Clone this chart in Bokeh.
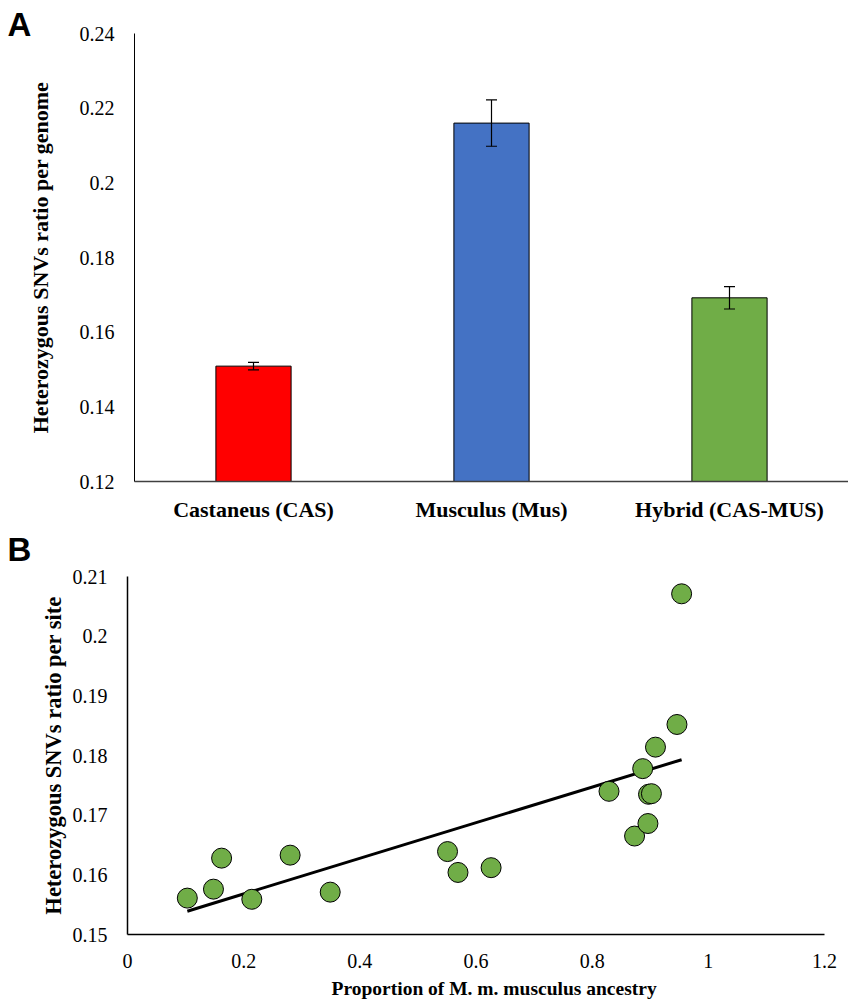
from bokeh.plotting import figure
from bokeh.models import Whisker, ColumnDataSource, FixedTicker, TeeHead, Title, Label
from bokeh.embed import file_html
from bokeh.resources import INLINE
import numpy as np

# ---- Panel A data ----
categories = ["Castaneus (CAS)", "Musculus (Mus)", "Hybrid (CAS-MUS)"]
genome_ratio = [0.1509, 0.2160, 0.1692]
genome_err = [0.0010, 0.0062, 0.0030]
bar_colors = ["#FF0000", "#4472C4", "#70AD47"]
yA_ticks = [0.12, 0.14, 0.16, 0.18, 0.20, 0.22, 0.24]
yA_labels = ["0.12", "0.14", "0.16", "0.18", "0.2", "0.22", "0.24"]

# ---- Panel B data ----
musculus_prop = [0.103, 0.148, 0.162, 0.214, 0.280, 0.349, 0.551, 0.569, 0.626,
                 0.829, 0.873, 0.887, 0.896, 0.897, 0.902, 0.909, 0.946, 0.954]
site_ratio = [0.1561, 0.1576, 0.1628, 0.1559, 0.1633, 0.1571, 0.1639, 0.1604, 0.1612,
              0.1740, 0.1665, 0.1778, 0.1686, 0.1735, 0.1736, 0.1814, 0.1852, 0.2071]
xB_ticks = [0, 0.2, 0.4, 0.6, 0.8, 1.0, 1.2]
xB_labels = ["0", "0.2", "0.4", "0.6", "0.8", "1", "1.2"]
yB_ticks = [0.15, 0.16, 0.17, 0.18, 0.19, 0.20, 0.21]
yB_labels = ["0.15", "0.16", "0.17", "0.18", "0.19", "0.2", "0.21"]

SERIF = "Liberation Serif"
SANS = "Liberation Sans"


def style_axes(p):
    for ax in (p.xaxis[0], p.yaxis[0]):
        ax.major_tick_line_color = None
        ax.minor_tick_line_color = None
        ax.major_tick_out = 0
        ax.major_tick_in = 0
        ax.minor_tick_out = 0
        ax.minor_tick_in = 0
        ax.major_label_text_font = SERIF
        ax.major_label_text_font_size = "20px"
        ax.major_label_text_color = "black"
        ax.axis_label_text_font = SERIF
        ax.axis_label_text_font_style = "bold"
        ax.axis_label_text_font_size = "22px"
        ax.axis_label_text_color = "black"
        ax.axis_line_color = "black"
    p.xgrid.grid_line_color = None
    p.ygrid.grid_line_color = None
    p.outline_line_color = None


# ---------- Panel A ----------
pA = figure(x_range=categories, y_range=(0.12, 0.24), width=848, height=530,
            output_backend="svg", toolbar_location=None, margin=(-4, 0, 0, 0),
            min_border_left=134, min_border_right=0, min_border_top=34, min_border_bottom=45)
srcA = ColumnDataSource(dict(cat=categories, val=genome_ratio, color=bar_colors,
                             upper=[v + e for v, e in zip(genome_ratio, genome_err)],
                             lower=[v - e for v, e in zip(genome_ratio, genome_err)]))
pA.vbar(x="cat", top="val", bottom=0.12, width=0.316, fill_color="color",
        line_color="black", line_width=1, source=srcA)
pA.add_layout(Whisker(base="cat", upper="upper", lower="lower", source=srcA,
                      line_color="black", line_width=1.2, level="overlay",
                      upper_head=TeeHead(size=11, line_color="black", line_width=1.2),
                      lower_head=TeeHead(size=11, line_color="black", line_width=1.2)))
style_axes(pA)
pA.x_range.range_padding = 0
pA.yaxis[0].ticker = FixedTicker(ticks=yA_ticks)
pA.yaxis[0].major_label_overrides = {t: l for t, l in zip(yA_ticks, yA_labels)}
pA.yaxis[0].axis_label = "Heterozygous SNVs ratio per genome"
pA.yaxis[0].major_label_standoff = 20
pA.yaxis[0].axis_label_standoff = 24
pA.xaxis[0].major_label_text_font_style = "bold"
pA.xaxis[0].major_label_text_font_size = "22px"
pA.xaxis[0].major_label_standoff = 15
pA.xaxis[0].axis_line_color = "#404040"
pA.xaxis[0].axis_line_width = 1.5
pA.add_layout(Label(x=-127, y=9, x_units="screen", y_units="screen", text="A",
                    text_font=SANS, text_font_style="bold", text_font_size="33px",
                    text_baseline="alphabetic", text_color="black"), "above")

# ---------- Panel B ----------
pB = figure(x_range=(0, 1.2), y_range=(0.15, 0.21), width=848, height=477,
            output_backend="svg", toolbar_location=None,
            min_border_left=127, min_border_right=24, min_border_top=50, min_border_bottom=66)
srcB = ColumnDataSource(dict(x=musculus_prop, y=site_ratio))
coef = np.polyfit(np.array(musculus_prop), np.array(site_ratio), 1)
fit_x = np.array([min(musculus_prop), max(musculus_prop)])
pB.line(fit_x, np.polyval(coef, fit_x), line_color="black", line_width=3)
pB.scatter("x", "y", size=20, fill_color="#70AD47", line_color="black", line_width=1,
           source=srcB)
style_axes(pB)
pB.xaxis[0].ticker = FixedTicker(ticks=xB_ticks)
pB.xaxis[0].major_label_overrides = {t: l for t, l in zip(xB_ticks, xB_labels)}
pB.yaxis[0].ticker = FixedTicker(ticks=yB_ticks)
pB.yaxis[0].major_label_overrides = {t: l for t, l in zip(yB_ticks, yB_labels)}
pB.yaxis[0].axis_label = "Heterozygous SNVs ratio per site"
pB.yaxis[0].axis_label_text_font_size = "22.5px"
pB.xaxis[0].major_label_standoff = 19
pB.yaxis[0].major_label_standoff = 20
pB.yaxis[0].axis_label_standoff = 4
pB.xaxis[0].axis_line_width = 1.5
pB.yaxis[0].axis_line_width = 1.5
pB.add_layout(Label(x=-120, y=27, x_units="screen", y_units="screen", text="B",
                    text_font=SANS, text_font_style="bold", text_font_size="33px",
                    text_baseline="alphabetic", text_color="black"), "above")
pB.add_layout(Title(text="Proportion of M. m. musculus ancestry", text_font=SERIF,
                    text_font_style="bold", text_font_size="19.5px", align="left",
                    offset=204, standoff=10, text_color="black"), "below")

open("out.html", "w").write(file_html([pA, pB], INLINE))
